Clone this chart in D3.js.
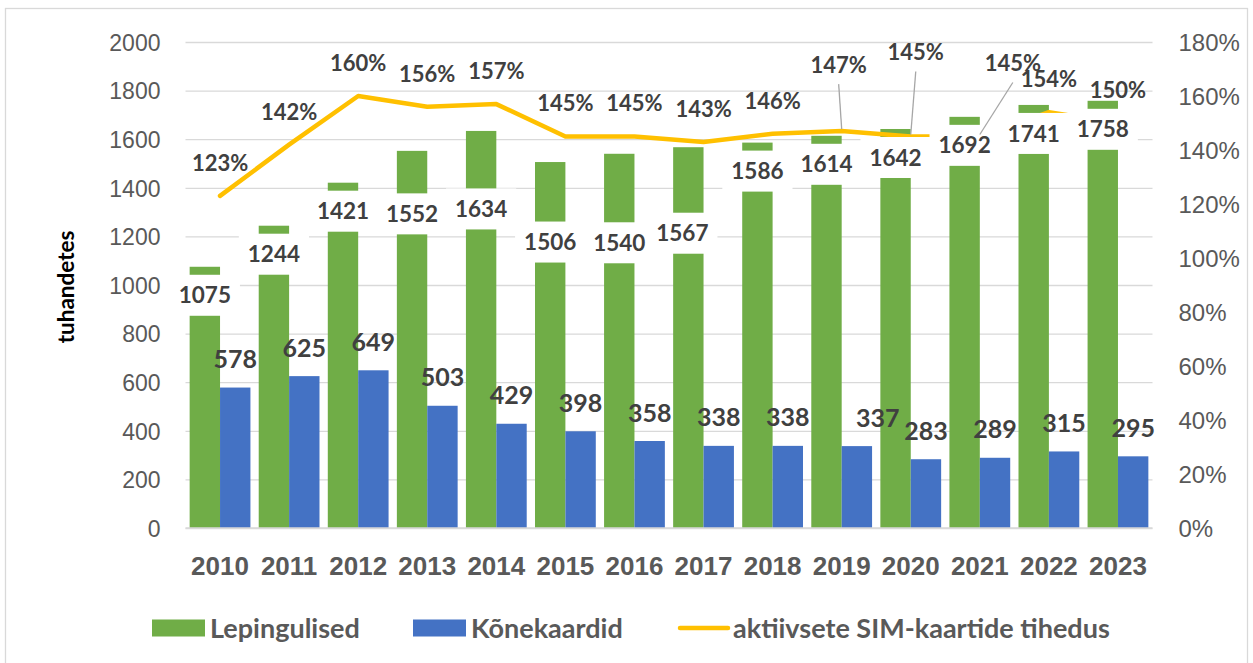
<!DOCTYPE html>
<html>
<head>
<meta charset="utf-8">
<script src="https://cdn.jsdelivr.net/npm/d3@7"></script>
<style>
  body { margin: 0; background: #fff; }
  svg { display: block; font-family: Lato, "Open Sans", sans-serif; }
</style>
</head>
<body>
<div id="chart"></div>
<script>
// data
var years = ["2010", "2011", "2012", "2013", "2014", "2015", "2016", "2017", "2018", "2019", "2020", "2021", "2022", "2023"];
var lepingulised = [1075, 1244, 1421, 1552, 1634, 1506, 1540, 1567, 1586, 1614, 1642, 1692, 1741, 1758];
var konekaardid = [578, 625, 649, 503, 429, 398, 358, 338, 338, 337, 283, 289, 315, 295];
var tihedus = [1.23, 1.42, 1.60, 1.56, 1.57, 1.45, 1.45, 1.43, 1.46, 1.47, 1.45, 1.45, 1.54, 1.50];
var leftTicks = [0, 200, 400, 600, 800, 1000, 1200, 1400, 1600, 1800, 2000];
var rightTicks = [0, 0.2, 0.4, 0.6, 0.8, 1.0, 1.2, 1.4, 1.6, 1.8];
var seriesNames = ["Lepingulised", "Kõnekaardid", "aktiivsete SIM-kaartide tihedus"];

// hand-moved data labels (pixel offsets, like in the original workbook)
var greenLabelDy = { "2013": 63, "2014": 78, "2015": 80, "2016": 89, "2017": 86 };
var greenLabelDx = { "2017": -6 };
var blueLabelDx = { "2019": 21 };
var pctLabelMove = { "2019": [-3, -66], "2020": [5, -84], "2021": [33, -73] };

var svgWidth = 1253;
var svgHeight = 663;
var plot = { left: 185.5, right: 1152.5, top: 42, bottom: 528 };

var colors = { green: "#70AD47", blue: "#4472C4", yellow: "#FFC000", grid: "#D9D9D9" };

var svg = d3.select("#chart")
  .append("svg")
  .attr("width", svgWidth)
  .attr("height", svgHeight);

// outer border
svg.append("rect")
  .attr("x", 5.5).attr("y", 8.5)
  .attr("width", 1242).attr("height", 660)
  .attr("fill", "none")
  .attr("stroke", colors.grid)
  .attr("stroke-width", 1.3);

var x0 = d3.scaleBand()
  .domain(years)
  .range([plot.left, plot.right])
  .paddingInner(0.12)
  .paddingOuter(0.06);

var x1 = d3.scaleBand()
  .domain(["lep", "kon"])
  .range([0, x0.bandwidth()]);

var y = d3.scaleLinear().domain([0, 2000]).range([plot.bottom, plot.top]);
var yRight = d3.scaleLinear().domain([0, 1.8]).range([plot.bottom, plot.top]);

// left axis + gridlines
var leftAxis = svg.append("g")
  .attr("transform", `translate(${plot.left}, 0)`)
  .call(d3.axisLeft(y).tickValues(leftTicks).tickSize(-(plot.right - plot.left)).tickPadding(25).tickFormat(d3.format("d")));
leftAxis.select(".domain").remove();
leftAxis.selectAll("line")
  .attr("stroke", colors.grid)
  .attr("stroke-width", 1.3);
leftAxis.selectAll("text")
  .attr("fill", "#595959")
  .attr("font-size", "23px")
  .attr("dy", "0.36em");

// right axis
var rightAxis = svg.append("g")
  .attr("transform", `translate(${plot.right}, 0)`)
  .call(d3.axisRight(yRight).tickValues(rightTicks).tickSize(0).tickPadding(26).tickFormat(d3.format(".0%")));
rightAxis.select(".domain").remove();
rightAxis.selectAll("text")
  .attr("fill", "#595959")
  .attr("font-size", "24px")
  .attr("dy", "0.36em");

// bars
var rows = years.map(function(yr, i) {
  return { year: yr, lep: lepingulised[i], kon: konekaardid[i], pct: tihedus[i] };
});

var groups = svg.append("g").selectAll("g")
  .data(rows)
  .enter()
  .append("g")
  .attr("transform", d => `translate(${x0(d.year)}, 0)`);

groups.append("rect")
  .attr("x", x1("lep"))
  .attr("y", d => y(d.lep))
  .attr("width", x1.bandwidth())
  .attr("height", d => y(0) - y(d.lep))
  .attr("fill", colors.green);

groups.append("rect")
  .attr("x", x1("kon"))
  .attr("y", d => y(d.kon))
  .attr("width", x1.bandwidth())
  .attr("height", d => y(0) - y(d.kon))
  .attr("fill", colors.blue);

// baseline
svg.append("line")
  .attr("x1", plot.left).attr("x2", plot.right)
  .attr("y1", y(0)).attr("y2", y(0))
  .attr("stroke", colors.grid)
  .attr("stroke-width", 1.6);

// year axis
var bottomAxis = svg.append("g")
  .attr("transform", `translate(0, ${plot.bottom})`)
  .call(d3.axisBottom(x0).tickSize(0).tickPadding(38));
bottomAxis.select(".domain").remove();
bottomAxis.selectAll("text")
  .attr("fill", "#595959")
  .attr("font-size", "26px")
  .attr("font-weight", "bold")
  .attr("dy", "0.36em");

// line
var lineX = d => x0(d.year) + x0.bandwidth() / 2;
var line = d3.line()
  .x(lineX)
  .y(d => yRight(d.pct));

svg.append("path")
  .datum(rows)
  .attr("d", line)
  .attr("fill", "none")
  .attr("stroke", colors.yellow)
  .attr("stroke-width", 4.5)
  .attr("stroke-linejoin", "round")
  .attr("stroke-linecap", "round");

// labels (green ones sit on a white box that cuts the bar)
var labelLayer = svg.append("g");

function addLabel(cx, cy, txt, size, withBox) {
  var g = labelLayer.append("g");
  var box = g.append("rect").attr("fill", "#fff");
  var t = g.append("text")
    .attr("x", cx)
    .attr("y", cy)
    .attr("dy", "0.36em")
    .attr("text-anchor", "middle")
    .attr("font-size", size + "px")
    .attr("font-weight", "bold")
    .attr("fill", "#404040")
    .text(txt);
  if (!withBox) {
    box.remove();
    return;
  }
  var w = t.node().getComputedTextLength();
  box.attr("x", cx - w / 2 - 9)
    .attr("y", cy - 20.5)
    .attr("width", w + 18)
    .attr("height", 41);
}

rows.forEach(function(d) {
  var cx = x0(d.year) + x1("lep") + x1.bandwidth() / 2 + (greenLabelDx[d.year] || 0);
  var cy = y(d.lep) + (greenLabelDy[d.year] || 28.5);
  addLabel(cx, cy, d.lep, 22.5, true);
});

rows.forEach(function(d) {
  var cx = x0(d.year) + x1("kon") + x1.bandwidth() / 2 + (blueLabelDx[d.year] || 0);
  addLabel(cx, y(d.kon) - 28.5, d.kon, 25, false);
});

var leaders = [];
rows.forEach(function(d) {
  var mv = pctLabelMove[d.year] || [0, -33];
  var px = lineX(d), py = yRight(d.pct);
  addLabel(px + mv[0], py + mv[1], Math.round(d.pct * 100) + "%", 22, false);
  if (pctLabelMove[d.year]) leaders.push([px + mv[0], py + mv[1] + 19, px, py - 2]);
});

svg.append("g").selectAll("line")
  .data(leaders)
  .enter()
  .append("line")
  .attr("x1", d => d[0]).attr("y1", d => d[1])
  .attr("x2", d => d[2]).attr("y2", d => d[3])
  .attr("stroke", "#A6A6A6")
  .attr("stroke-width", 1.3);

// y title
svg.append("text")
  .attr("transform", "translate(66, 287) rotate(-90)")
  .attr("dy", "0.36em")
  .attr("text-anchor", "middle")
  .attr("font-size", "22.5px")
  .attr("font-weight", "bold")
  .attr("fill", "#000")
  .text("tuhandetes");

// legend
var legendY = 628;
var legend = svg.append("g");
var legendX = [152, 413, 680];

legend.append("rect").attr("x", legendX[0]).attr("y", legendY - 8.5).attr("width", 53).attr("height", 17).attr("fill", colors.green);
legend.append("rect").attr("x", legendX[1]).attr("y", legendY - 8.5).attr("width", 53).attr("height", 17).attr("fill", colors.blue);
legend.append("line")
  .attr("x1", legendX[2]).attr("x2", legendX[2] + 48)
  .attr("y1", legendY).attr("y2", legendY)
  .attr("stroke", colors.yellow)
  .attr("stroke-width", 4.5)
  .attr("stroke-linecap", "round");

legend.selectAll("text")
  .data(seriesNames)
  .enter()
  .append("text")
  .attr("x", (d, i) => legendX[i] + (i === 2 ? 53 : 58))
  .attr("y", legendY)
  .attr("dy", "0.36em")
  .attr("font-size", "27px")
  .attr("font-weight", "bold")
  .attr("fill", "#595959")
  .text(d => d);
</script>
</body>
</html>
